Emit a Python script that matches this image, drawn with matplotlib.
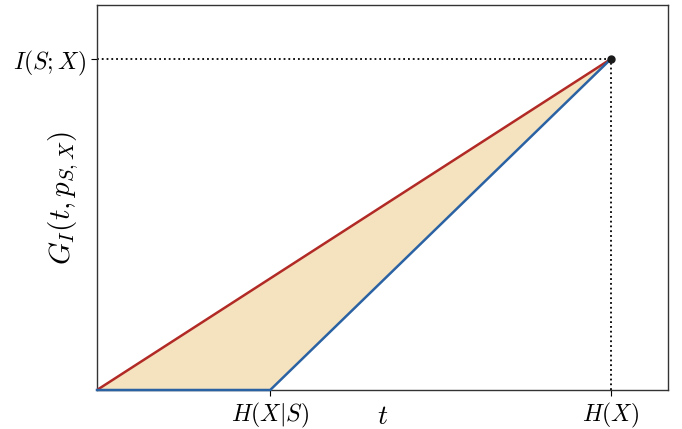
import numpy as np
import matplotlib.pyplot as plt

plt.rcParams['mathtext.fontset'] = 'cm'

# key points (H(X) and I(S;X) scaled to 1)
h_x = 1.0
h_x_given_s = 0.337
i_sx = 1.0

t_blue = [0.0, h_x_given_s, h_x]
g_blue = [0.0, 0.0, i_sx]
t_red = [0.0, h_x]
g_red = [0.0, i_sx]

fig = plt.figure(figsize=(6.82, 4.29), dpi=100)
ax = fig.add_axes([97/682, 1 - 390/429, 571/682, 385/429])

t = np.array(t_blue)
ax.fill_between(t, np.interp(t, t_red, g_red), g_blue, color="#f5e3c0", lw=0)
ax.plot(t_red, g_red, color="#b22a25", lw=1.8, zorder=3)
ax.plot(t_blue, g_blue, color="#2a62a3", lw=1.8, zorder=3, clip_on=False)
ax.plot([0, h_x], [i_sx, i_sx], color="black", ls=":", lw=1.3)
ax.plot([h_x, h_x], [0, i_sx], color="black", ls=":", lw=1.3)
ax.plot([h_x], [i_sx], "o", color="#1a1a1a", ms=5, zorder=4)

ax.set_xlim(0, 1.111)
ax.set_ylim(0, 1.163)
ax.set_xticks([h_x_given_s, h_x])
ax.set_xticklabels([r"$H(X|S)$", r"$H(X)$"], fontsize=17)
ax.set_yticks([i_sx])
ax.set_yticklabels([r"$I(S;X)$"], fontsize=17)
ax.tick_params(length=4, pad=4)
ax.set_xlabel(r"$t$", fontsize=20)
ax.set_ylabel(r"$G_I(t, p_{S,X})$", fontsize=21)
ax.xaxis.set_label_coords(0.50, -0.03)
ax.yaxis.set_label_coords(-0.028, 0.5)
for s in ax.spines.values():
    s.set_color("#333333")
    s.set_linewidth(1.0)

fig.savefig("out.png", dpi=100)
